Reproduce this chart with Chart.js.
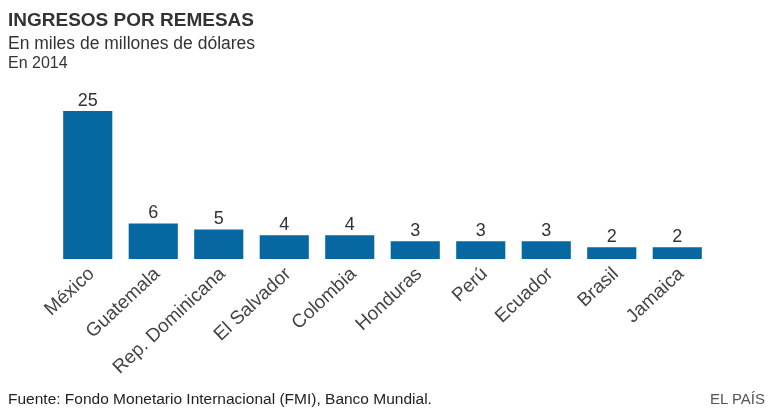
<!DOCTYPE html>
<html>
<head>
<meta charset="utf-8">
<script src="https://cdn.jsdelivr.net/npm/chart.js@4.4.1/dist/chart.umd.min.js"></script>
<style>
    body { margin: 0; background: #fff; }
    #wrap { position: relative; width: 768px; height: 411px; overflow: hidden; font-family: "Liberation Sans", Arial, sans-serif; }
    #wrap canvas { position: absolute; left: 0; top: 0; }
    .txt { position: absolute; white-space: nowrap; line-height: 1; }
    #title { left: 8px; top: 10px; font-size: 19px; font-weight: bold; color: #333; }
    #sub1 { left: 8px; top: 35px; font-size: 17.5px; color: #333; }
    #sub2 { left: 8px; top: 54.5px; font-size: 16px; color: #333; }
    #source { left: 8px; top: 391px; font-size: 15.5px; color: #222; }
    #brand { right: 3px; top: 391px; font-size: 15px; color: #555; }
</style>
</head>
<body>
<div id="wrap">
    <canvas id="remesas-chart" width="768" height="411"></canvas>
    <div class="txt" id="title">INGRESOS POR REMESAS</div>
    <div class="txt" id="sub1">En miles de millones de dólares</div>
    <div class="txt" id="sub2">En 2014</div>
    <div class="txt" id="source">Fuente: Fondo Monetario Internacional (FMI), Banco Mundial.</div>
    <div class="txt" id="brand">EL PAÍS</div>
</div>
<script>
// Remesas 2014 (miles de millones de dólares)
const paises = ['México', 'Guatemala', 'Rep. Dominicana', 'El Salvador', 'Colombia', 'Honduras', 'Perú', 'Ecuador', 'Brasil', 'Jamaica'];
const ingresos = [25, 6, 5, 4, 4, 3, 3, 3, 2, 2];

// value labels above bars
const valueLabels = {
    id: 'valueLabels',
    afterDatasetsDraw(chart) {
        const ctx = chart.ctx;
        const meta = chart.getDatasetMeta(0);
        ctx.save();
        ctx.font = '18px "Liberation Sans", Arial, sans-serif';
        ctx.fillStyle = '#333';
        ctx.textAlign = 'center';
        ctx.textBaseline = 'alphabetic';
        meta.data.forEach(function(bar, i) {
            ctx.fillText(ingresos[i], bar.x, bar.y - 5);
        });
        ctx.restore();
    }
};

document.addEventListener('DOMContentLoaded', function() {
    const canvas = document.getElementById('remesas-chart').getContext('2d');

    new Chart(canvas, {
        type: 'bar',
        data: {
            labels: paises,
            datasets: [{
                data: ingresos,
                backgroundColor: '#0667a1',
                barPercentage: 0.75,
                categoryPercentage: 1
            }]
        },
        options: {
            responsive: false,
            animation: false,
            layout: {
                padding: { left: 55, right: 58, top: 111, bottom: 0 }
            },
            plugins: {
                legend: { display: false },
                tooltip: { enabled: false }
            },
            scales: {
                x: {
                    grid: { display: false, drawTicks: false },
                    border: { display: false },
                    ticks: {
                        color: '#444',
                        font: { family: '"Liberation Sans", Arial, sans-serif', size: 19 },
                        minRotation: 43,
                        maxRotation: 43,
                        padding: 4,
                        labelOffset: 4,
                        autoSkip: false
                    },
                    afterFit: function(scale) {
                        scale.height = 152;
                    }
                },
                y: {
                    display: false,
                    min: 0,
                    max: 25
                }
            }
        },
        plugins: [valueLabels]
    });
});
</script>
</body>
</html>
